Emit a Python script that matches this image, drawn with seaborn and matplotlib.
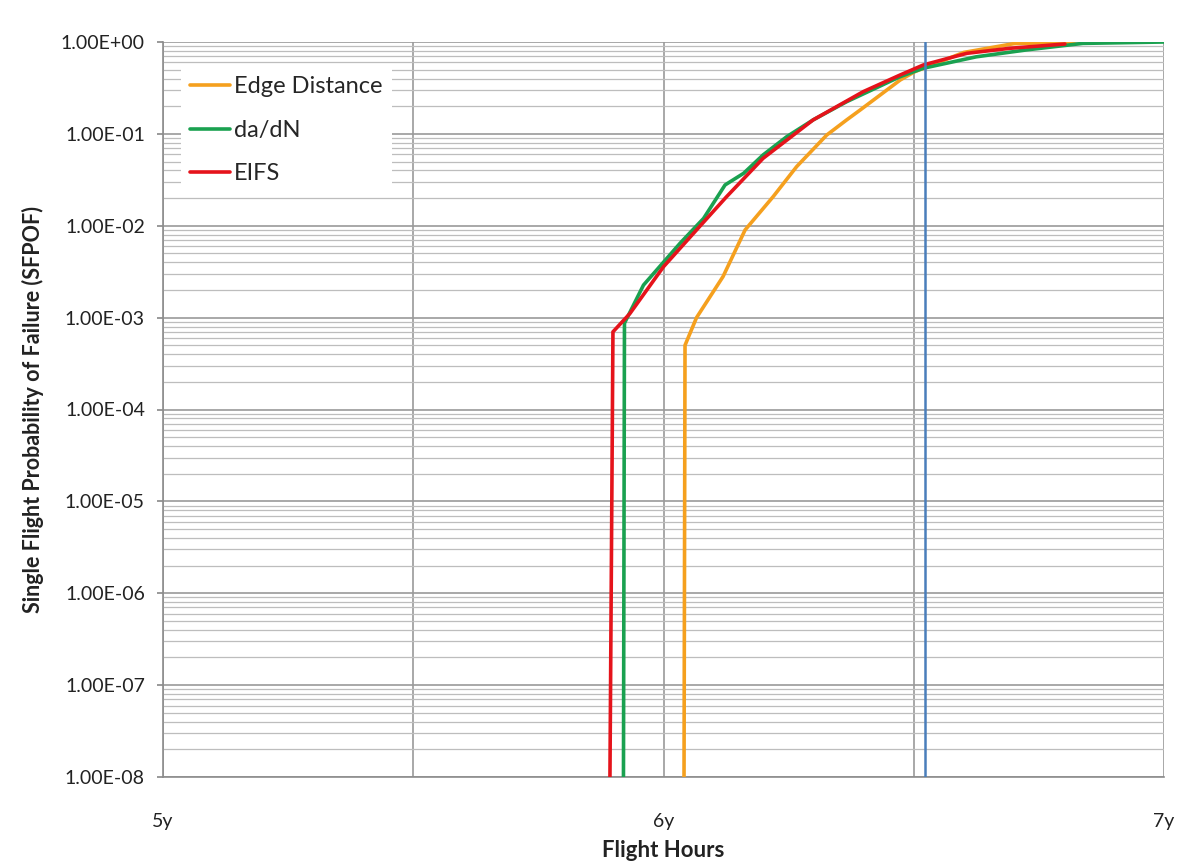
import numpy as np
import pandas as pd
import matplotlib
matplotlib.use("Agg")
import matplotlib.pyplot as plt
from matplotlib.ticker import FixedLocator, FuncFormatter, NullFormatter
import seaborn as sns

# Flight hours (years) and single-flight probability of failure per method
edge_x = [6.041, 6.043, 6.066, 6.119, 6.163, 6.219, 6.266, 6.326, 6.366, 6.393, 6.473, 6.502, 6.60, 6.70, 6.82]
edge_y = [1e-8, 5.0e-4, 1.0e-3, 2.8e-3, 9.0e-3, 2.07e-2, 4.4e-2, 9.7e-2, 1.42e-1, 1.82e-1, 3.86e-1, 4.75e-1, 7.7e-1, 9.6e-1, 1.0]

dadn_x = [5.920, 5.922, 5.960, 6.033, 6.080, 6.123, 6.160, 6.199, 6.246, 6.299, 6.366, 6.473, 6.519, 6.625, 6.725, 6.838, 7.0]
dadn_y = [1e-8, 8.7e-4, 2.26e-3, 6.44e-3, 1.2e-2, 2.78e-2, 3.72e-2, 5.9e-2, 9.3e-2, 1.42e-1, 2.24e-1, 4.2e-1, 5.18e-1, 6.9e-1, 8.2e-1, 9.66e-1, 1.0]

eifs_x = [5.893, 5.899, 5.933, 6.000, 6.066, 6.126, 6.199, 6.299, 6.399, 6.473, 6.519, 6.606, 6.692, 6.802]
eifs_y = [1e-8, 7.0e-4, 1.11e-3, 3.58e-3, 9.0e-3, 2.07e-2, 5.42e-2, 1.42e-1, 2.88e-1, 4.38e-1, 5.62e-1, 7.53e-1, 8.54e-1, 9.51e-1]

series_names = ["Edge Distance", "da/dN", "EIFS"]
series_colors = ["#F5A01E", "#1AA150", "#E5131B"]
x_ticks = [5.0, 5.5, 6.0, 6.5, 7.0]
x_tick_labels = ["5y", "", "6y", "", "7y"]
y_decades = [10.0 ** e for e in range(-8, 1)]
marker_x = 6.522

frames = []
for name, xs, ys in zip(series_names, [edge_x, dadn_x, eifs_x], [edge_y, dadn_y, eifs_y]):
    frames.append(pd.DataFrame({"hours": xs, "sfpof": ys, "method": name}))
df = pd.concat(frames, ignore_index=True)

sns.set_theme(style="white")
plt.rcParams["font.family"] = ["Lato", "DejaVu Sans"]

fig = plt.figure(figsize=(11.84, 8.67), dpi=100)
ax = fig.add_axes([163 / 1184, 1 - 777 / 867, (1164 - 163) / 1184, (777 - 42) / 867])

ax.set_yscale("log")
ax.set_xlim(5.0, 7.0)
ax.set_ylim(1e-8, 1.0)

# decade and sub-decade grid
minor_y = [d * k for d in y_decades[:-1] for k in range(2, 10)]
ax.yaxis.set_major_locator(FixedLocator(y_decades))
ax.yaxis.set_minor_locator(FixedLocator(minor_y))
ax.yaxis.set_minor_formatter(NullFormatter())
ax.yaxis.set_major_formatter(FuncFormatter(lambda v, p: f"{v:.2E}"))
ax.xaxis.set_major_locator(FixedLocator(x_ticks))
ax.set_xticklabels(x_tick_labels)
ax.grid(which="major", axis="y", color="#9a9a9a", linewidth=1.2)
ax.grid(which="minor", axis="y", color="#bdbdbd", linewidth=0.9)
ax.grid(which="major", axis="x", color="#9a9a9a", linewidth=1.2)
ax.set_axisbelow(True)

sns.lineplot(data=df, x="hours", y="sfpof", hue="method", hue_order=series_names,
             palette=series_colors, sort=False, estimator=None,
             linewidth=2.6, ax=ax, zorder=3)

ax.axvline(marker_x, color="#4A7EBB", linewidth=1.8, zorder=4)

for s in ["top", "right"]:
    ax.spines[s].set_visible(False)
for s in ["left", "bottom"]:
    ax.spines[s].set_color("#8c8c8c")
    ax.spines[s].set_linewidth(1.2)

ax.tick_params(axis="y", which="major", left=True, length=4, color="#8c8c8c", labelsize=14, pad=9, labelcolor="#222222")
ax.tick_params(axis="y", which="minor", left=False)
ax.tick_params(axis="x", which="major", bottom=False, labelsize=14, pad=20, labelcolor="#222222")

ax.set_xlabel("Flight Hours", fontsize=16, fontweight="bold", labelpad=7, color="#222222")
ax.set_ylabel("Single Flight Probability of Failure (SFPOF)", fontsize=15.5, fontweight="bold", labelpad=12, color="#222222")

leg = ax.legend(loc="upper left", bbox_to_anchor=(0.006, 0.982), frameon=True, fontsize=17,
                handlelength=1.7, handletextpad=0.15, labelspacing=0.95, borderpad=0.4,
                fancybox=False, framealpha=1.0, edgecolor="white")
leg.get_frame().set_linewidth(0)
for line in leg.get_lines():
    line.set_linewidth(2.6)

fig.savefig("out.png", dpi=100, facecolor="white")
